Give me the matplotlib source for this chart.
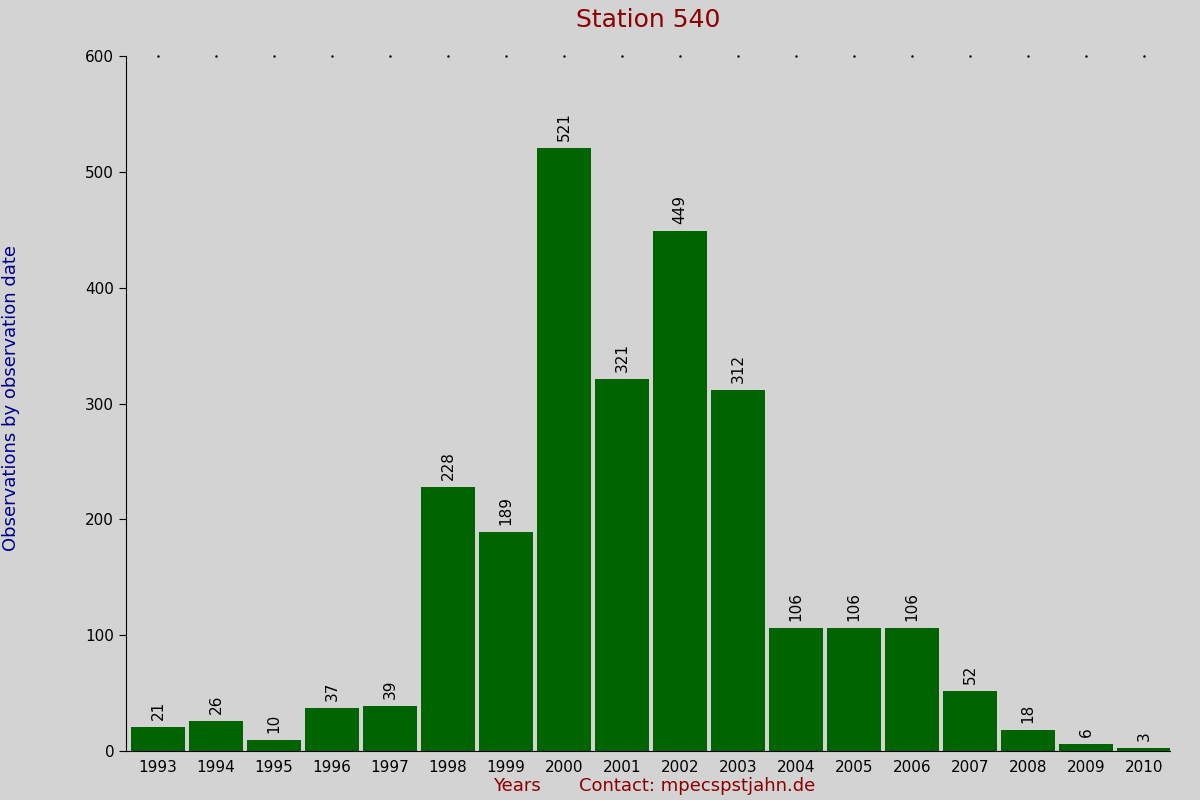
import matplotlib
matplotlib.use("Agg")
import matplotlib.pyplot as plt

years = [str(y) for y in range(1993, 2011)]
counts = [21, 26, 10, 37, 39, 228, 189, 521, 321, 449, 312, 106, 106, 106, 52, 18, 6, 3]

bg = "#d3d3d3"
fig = plt.figure(figsize=(12, 8), dpi=100, facecolor=bg)
ax = fig.add_axes([0.105, 0.061, 0.87, 0.869], facecolor=bg)
x = list(range(len(years)))
ax.bar(x, counts, width=0.92, color="#006400")
for xi, c in zip(x, counts):
    ax.text(xi, c + 6, str(c), rotation=90, ha="center", va="bottom", fontsize=11, color="black")
ax.set_xlim(-0.55, 17.45)
ax.set_ylim(0, 600)
ax.set_xticks(x)
ax.set_xticklabels(years, fontsize=11)
ax.set_yticks(range(0, 601, 100))
ax.tick_params(axis="y", labelsize=11, length=5)
ax.tick_params(axis="x", length=0, pad=6)
for s in ["top", "right"]:
    ax.spines[s].set_visible(False)
for xi in x:
    ax.plot(xi, 600, marker=".", markersize=1.5, color="black", clip_on=False)
fig.text(0.54, 0.975, "Station 540", ha="center", va="center", fontsize=18, color="#8b0000")
fig.text(0.431, 0.018, "Years", ha="center", va="center", fontsize=13, color="#8b0000")
fig.text(0.581, 0.018, "Contact: mpecspstjahn.de", ha="center", va="center", fontsize=13, color="#8b0000")
fig.text(0.009, 0.502, "Observations by observation date", rotation=90, ha="center", va="center", fontsize=13, color="#00008b")
fig.savefig("out.png", facecolor=bg)
